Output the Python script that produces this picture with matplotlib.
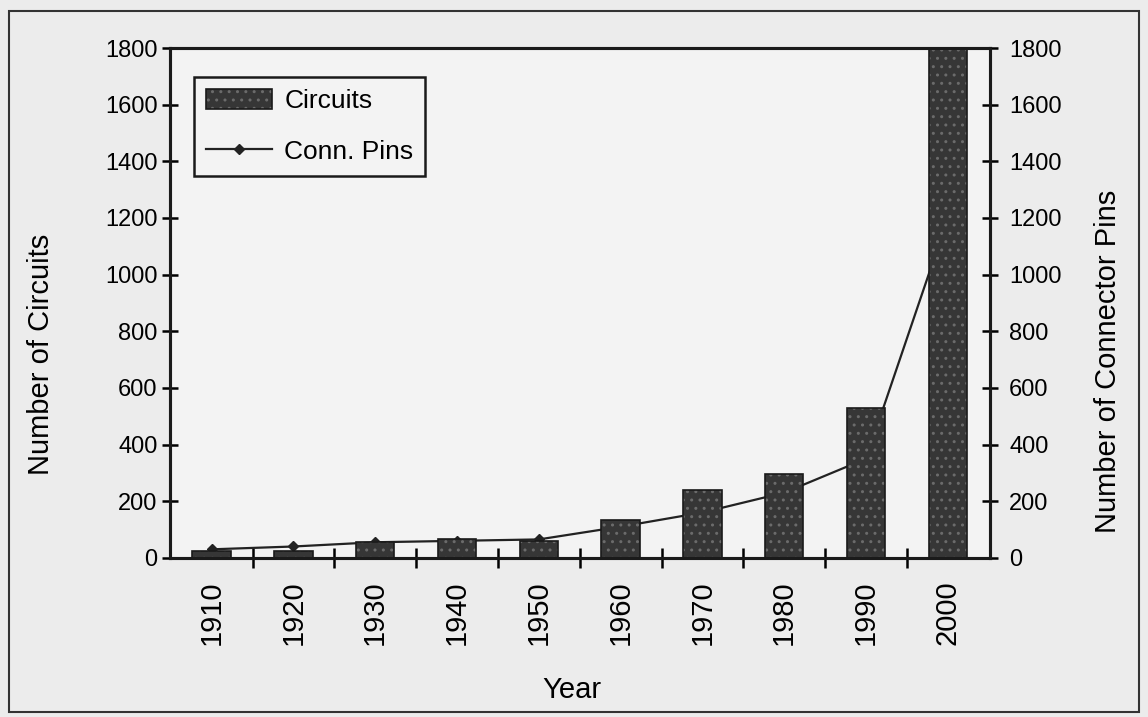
import matplotlib.pyplot as plt
import numpy as np
from matplotlib.patches import Rectangle

plt.rcParams['font.family'] = ['Liberation Sans', 'DejaVu Sans']

years = ['1910', '1920', '1930', '1940', '1950', '1960', '1970', '1980', '1990', '2000']
circuits = [25, 25, 55, 65, 60, 135, 240, 295, 530, 1850]
conn_pins = [30, 40, 55, 60, 65, 110, 160, 230, 350, 1200]

x = np.arange(len(years))

fig = plt.figure(figsize=(11.48, 7.17), dpi=100, facecolor='#ececec')
ax = fig.add_axes([0.148, 0.222, 0.714, 0.711])
ax.set_facecolor('#f3f3f3')

# line drawn behind the bars, same 0-1800 scale as the right axis
ax.plot(x, conn_pins, color='#222222', lw=1.6, marker='D', ms=5, label='Conn. Pins', zorder=2)
bars = ax.bar(x, circuits, width=0.47, color='#363636', edgecolor='#1a1a1a',
              hatch='..', linewidth=1.2, label='Circuits', zorder=3)
for b in bars:
    b._hatch_color = (0.42, 0.42, 0.42, 1.0)

ax.set_xlim(-0.51, len(years) - 0.49)
ax.set_ylim(0, 1800)
ax.set_yticks(range(0, 1801, 200))
ax.set_xticks(x)
ax.set_xticklabels(years, rotation=90, fontsize=21)
ax.tick_params(axis='x', length=0, pad=16)
ax.set_xticks(x[:-1] + 0.5, minor=True)
ax.tick_params(axis='x', which='minor', direction='inout', length=14, width=1.8)
ax.tick_params(axis='y', direction='inout', length=12, width=1.8, labelsize=17, pad=3)
ax.set_ylabel('Number of Circuits', fontsize=21)
ax.yaxis.set_label_coords(-0.14, 0.40)
ax.set_xlabel('Year', fontsize=21)
ax.xaxis.set_label_coords(0.49, -0.232)

ax2 = ax.twinx()
ax2.set_ylim(0, 1800)
ax2.set_yticks(range(0, 1801, 200))
ax2.tick_params(axis='y', direction='inout', length=12, width=1.8, labelsize=17, pad=8)
ax2.set_ylabel('Number of Connector Pins', fontsize=21)
ax2.yaxis.set_label_coords(1.128, 0.385)

for a in (ax, ax2):
    for s in a.spines.values():
        s.set_linewidth(2.2)
        s.set_color('#1a1a1a')

h, l = ax.get_legend_handles_labels()
leg = ax.legend(h[::-1], l[::-1], loc='upper left', bbox_to_anchor=(0.03, 0.943),
                borderaxespad=0, fontsize=19, fancybox=False, edgecolor='#1a1a1a',
                framealpha=1, facecolor='#f3f3f3', handlelength=2.5, handleheight=0.8,
                borderpad=0.45, labelspacing=1.0, handletextpad=0.45)
leg.get_frame().set_linewidth(1.8)
leg.set_zorder(10)

# outer border of the scanned figure
fig.patches.append(Rectangle((0.008, 0.007), 0.984, 0.978, transform=fig.transFigure,
                             fill=False, edgecolor='#333333', lw=1.5))

fig.savefig('out.png', dpi=100, facecolor=fig.get_facecolor())
